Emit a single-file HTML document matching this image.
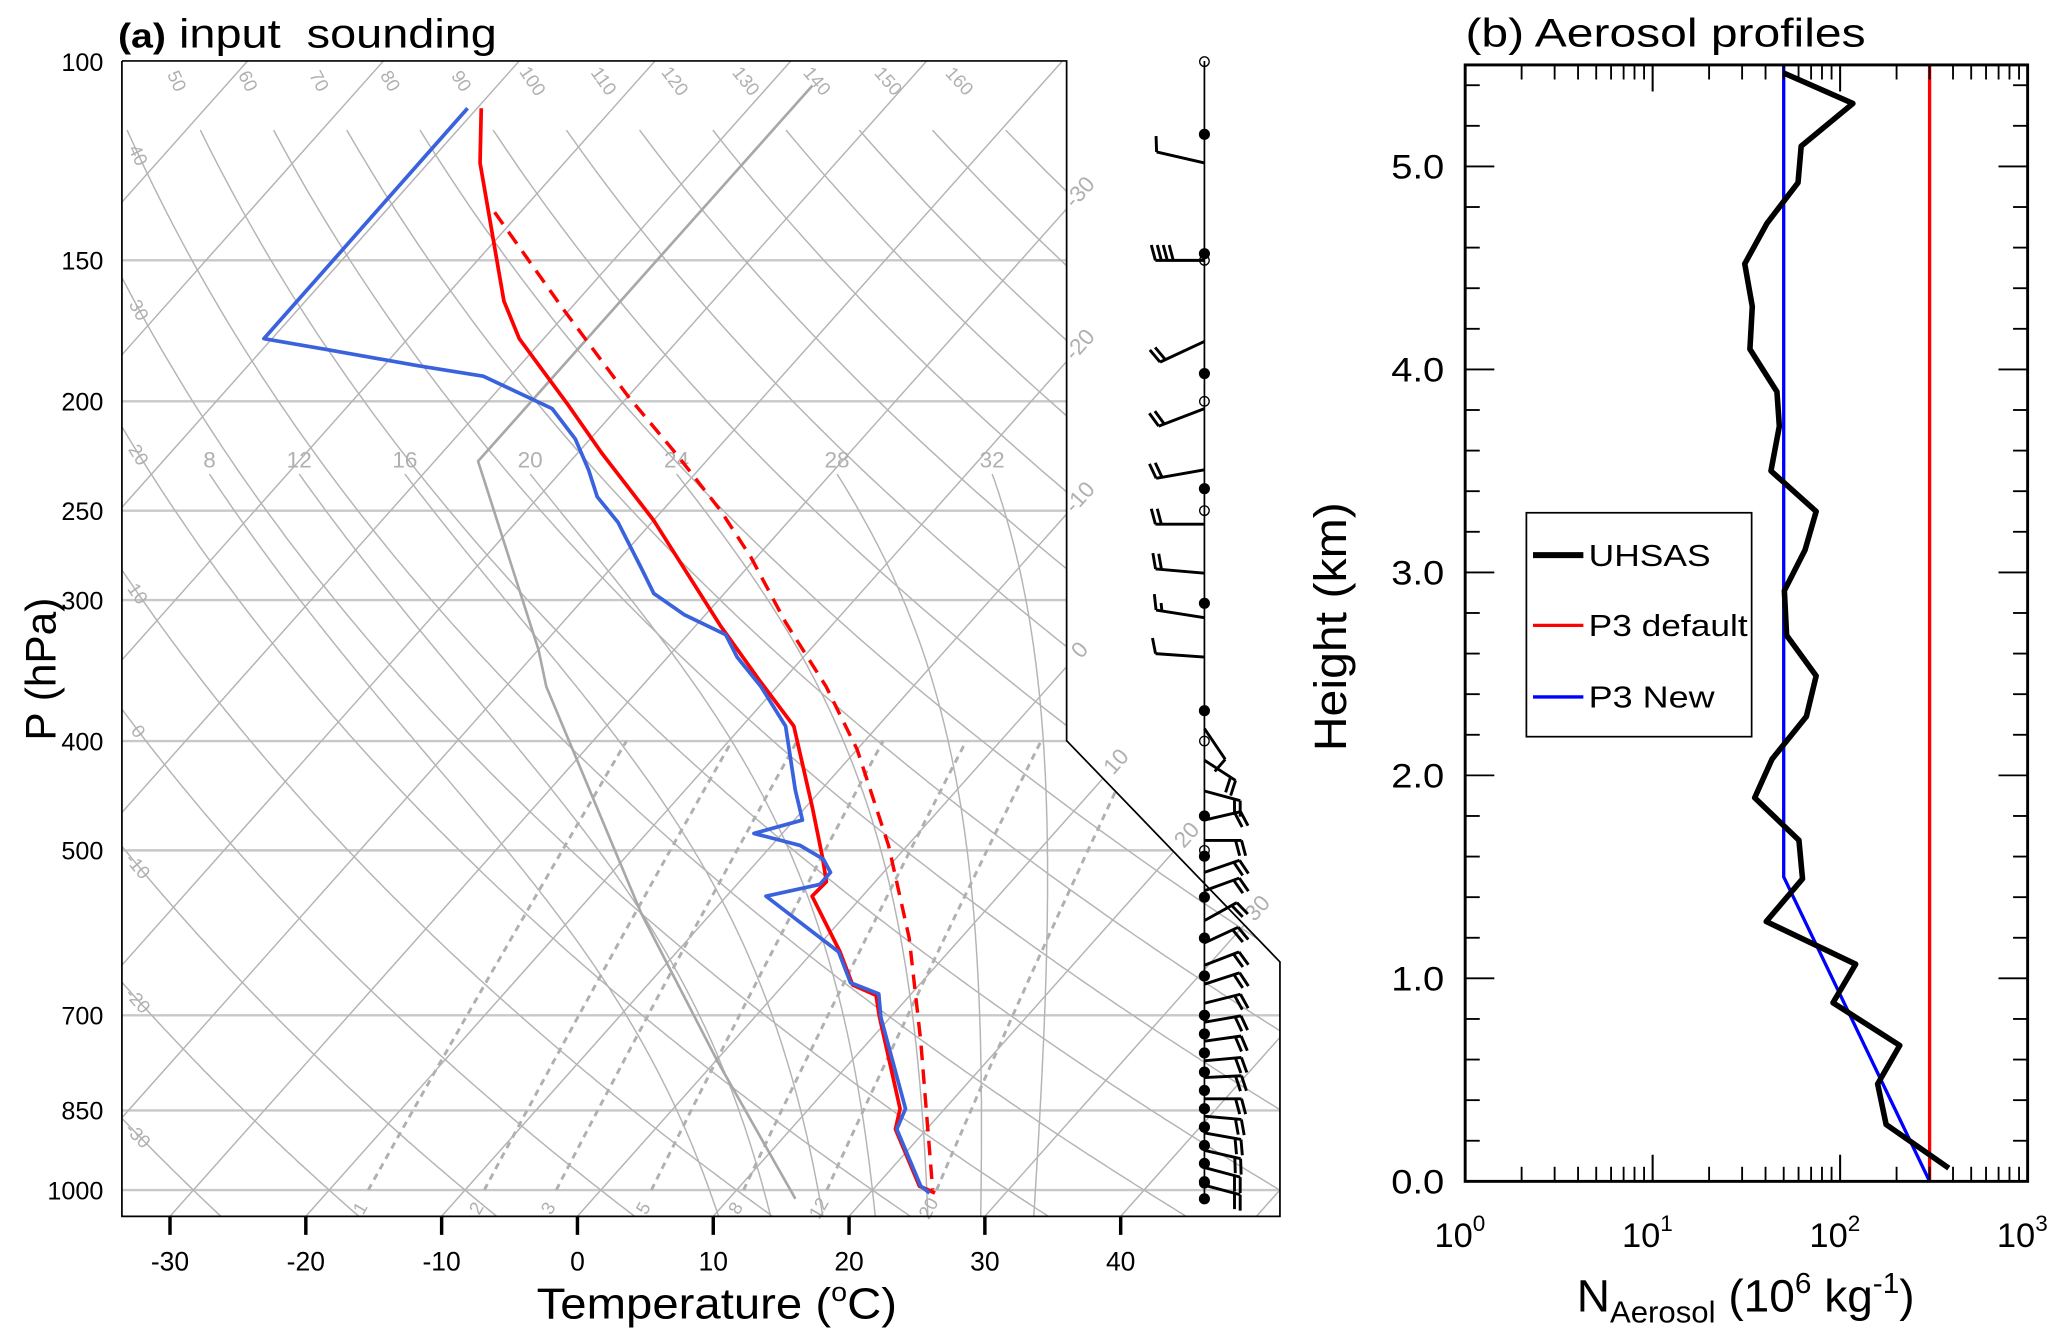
<!DOCTYPE html>
<html><head><meta charset="utf-8"><style>
html,body{margin:0;padding:0;background:#fff;}
svg{display:block;font-family:"Liberation Sans",Arial,sans-serif;}
</style></head><body>
<svg id="fig" xmlns="http://www.w3.org/2000/svg" width="2067" height="1332" viewBox="0 0 1560 1005.3">
<defs>
<clipPath id="skewClip"><polygon points="92,46 805,46 805,559 966,726 966,918 92,918"/></clipPath>
<clipPath id="bClip"><rect x="1105.8" y="49" width="424.5" height="842.6"/></clipPath>
</defs>
<g id="panelA">
<g id="bgA" clip-path="url(#skewClip)"></g>
<g id="labA" fill="#b0b0b0" font-size="15"></g>
<g id="dataA" clip-path="url(#skewClip)"></g>
<polyline points="92,46 805,46 805,559 966,726 966,918 92,918 92,46" fill="none" stroke="#000" stroke-width="1.3"/>
<g id="windA"></g>
<g id="axA"></g>
<text x="89" y="36" font-size="31" textLength="286" lengthAdjust="spacingAndGlyphs" xml:space="preserve"><tspan font-weight="bold" font-size="26">(a)</tspan> input  sounding</text>
<text x="541" y="995" font-size="33" text-anchor="middle" textLength="272" lengthAdjust="spacingAndGlyphs">Temperature (<tspan font-size="20" dy="-13">o</tspan><tspan dy="13">C)</tspan></text>
<text transform="translate(42,505) rotate(-90)" font-size="32" text-anchor="middle">P (hPa)</text>
</g>
<g id="panelB">
<g id="dataB" clip-path="url(#bClip)"></g>
<rect x="1105.8" y="49" width="424.5" height="842.6" fill="none" stroke="#000" stroke-width="2.2"/>
<g id="axB"></g>
<text x="1106" y="35" font-size="30" textLength="302" lengthAdjust="spacingAndGlyphs">(b) Aerosol profiles</text>
<text x="1190" y="990" font-size="34" textLength="255" lengthAdjust="spacingAndGlyphs">N<tspan font-size="23" dy="8">Aerosol</tspan><tspan dy="-8"> (10</tspan><tspan font-size="22" dy="-14">6</tspan><tspan dy="14"> kg</tspan><tspan font-size="22" dy="-14">-1</tspan><tspan dy="14">)</tspan></text>
<text transform="translate(1016,473) rotate(-90)" font-size="34" text-anchor="middle" textLength="188" lengthAdjust="spacingAndGlyphs">Height (km)</text>
<g>
<rect x="1152" y="387" width="170" height="169" fill="#fff" stroke="#000" stroke-width="1.3"/>
<line x1="1157" y1="419" x2="1195" y2="419" stroke="#000" stroke-width="4.5"/>
<text x="1199" y="427" font-size="23" textLength="92" lengthAdjust="spacingAndGlyphs">UHSAS</text>
<line x1="1157" y1="472" x2="1195" y2="472" stroke="#ff0000" stroke-width="2.5"/>
<text x="1199" y="480" font-size="23" textLength="120" lengthAdjust="spacingAndGlyphs">P3 default</text>
<line x1="1157" y1="526" x2="1195" y2="526" stroke="#0000ff" stroke-width="2.5"/>
<text x="1199" y="534" font-size="23" textLength="95" lengthAdjust="spacingAndGlyphs">P3 New</text>
</g>
</g>
</svg>
<script>
// ---------- Panel (a) data ----------
const pressureLevels=[100,150,200,250,300,400,500,700,850,1000];
const tempTicks=[-30,-20,-10,0,10,20,30,40];
const tempP=[110,123,163,176,201,222,255,316,353,388,458,507,533,549,615,658,672,701,847,883,992,1006];
const tempT=[-79.7,-76.2,-65.4,-61.8,-54.0,-48.3,-40.0,-28.2,-21.8,-16.2,-9.5,-5.5,-3.6,-3.7,2.0,5.1,7.5,9.1,16.7,17.7,23.2,24.8];
const dewP=[110,176,180,186,190,203,216,230,243,256,281,296,309,322,337,358,388,407,442,470,483,495,509,523,536,549,615,655,670,703,847,883,992,1006];
const dewT=[-80.7,-80.6,-75.2,-67.5,-62.0,-54.8,-51.1,-48.1,-45.7,-42.5,-37.8,-35.2,-31.6,-27.2,-24.9,-21.2,-16.8,-15.0,-11.9,-9.4,-12.1,-7.9,-5.3,-3.9,-3.9,-7.1,1.9,4.8,7.6,9.3,17.1,17.8,23.3,24.4];
const parcelP=[136,166,198,223,250,275,314,358,407,495,598,738,999];
const parcelT=[-71.9,-60.4,-50.0,-42.6,-35.7,-30.4,-23.6,-16.4,-10.0,-1.4,6.2,13.8,24.4];
const grayP=[105,226,332,358,568,768,1018];
const grayT=[-56.8,-56.8,-40.0,-37.0,-15.2,0.1,14.9];
const isotherms=[-110,-100,-90,-80,-70,-60,-50,-40,-30,-20,-10,0,10,20,30,40,50];
const isoLabels=[-30,-20,-10,0,10,20,30];
const dryThetas=[-30,-20,-10,0,10,20,30,40,50,60,70,80,90,100,110,120,130,140,150,160,170,180];
const dryTopLabels=[50,60,70,80,90,100,110,120,130,140,150,160];
const dryLeftLabels=[-30,-20,-10,0,10,20,30,40];
const moistThetaW=[8,12,16,20,24,28,32];
const mixRatios=[1,2,3,5,8,12,20];
// wind barbs: pressure, shaft angle (deg, screen, CCW from right), number of feathers
const barbP=[123,150,177,203,230,257,284,311,337,390,416,443,470,490,523,543,577,604,632,657,683,710,738,768,795,830,860,890,922,955,990];
const barbAng=[167,180,205,201,190,180,175,171,176,-56,-33,-15,13,0,19,20,29,25,21,18,14,10,8,5,3,0,-5,-10,-13,-15,-15];
const barbFeath=[1,4,2,2,2,2,2,1.5,1,1,2,2,2,2,2,2,2,2,2,2,2,2,2,2,2,2,2,2,2,2,2];
const dotP=[116,148,189,239,302,376,466,506,550,598,646,700,727,756,786,816,847,879,913,947,983,1018];
const ringP=[100,150,200,250,400,500,700,880,986];

// ---------- Panel (b) data ----------
const uhsasH=[5.46,5.31,5.10,4.92,4.72,4.52,4.31,4.10,3.89,3.72,3.50,3.30,3.11,2.91,2.69,2.49,2.29,2.08,1.89,1.68,1.49,1.28,1.07,0.88,0.67,0.48,0.28,0.065];
const uhsasN=[50,117,62,59.6,40.7,31,34,33,46,47.4,42.8,74.5,65,50.4,51.8,74.5,66,43.3,35,60.3,63,40.3,121,91.6,208,158.6,176,380];
const p3DefaultH=[0,5.5];
const p3DefaultN=[300,300];
const p3NewH=[5.5,1.5,0];
const p3NewN=[50,50,300];
const heightTicks=[0,1,2,3,4,5];
const nDecades=[0,1,2,3];

const NS='http://www.w3.org/2000/svg';
function mk(tag,attrs,parent){const e=document.createElementNS(NS,tag);for(const k in attrs)e.setAttribute(k,attrs[k]);parent.appendChild(e);return e;}
function yP(p){return 898.2+369.9*Math.log(p/1000);}
function xT(T,y){return 435.8+10.25*T+0.89*(918-y);}
function pt(T,p){const y=yP(p);return [xT(T,y),y];}
function pathFrom(pts){return pts.map((q,i)=>(i?'L':'M')+q[0].toFixed(1)+' '+q[1].toFixed(1)).join(' ');}
function es(Tc){return 6.112*Math.exp(17.67*Tc/(Tc+243.5));}

const bgA=document.getElementById('bgA');
const labA=document.getElementById('labA');
const dataA=document.getElementById('dataA');
const axA=document.getElementById('axA');
const windA=document.getElementById('windA');

// pressure gridlines
for(const p of pressureLevels){
  if(p===100) continue;
  const g=mk('line',{x1:92,x2:970,y1:yP(p),y2:yP(p),stroke:'#c8c8c8','stroke-width':1.8},bgA);
  
  
}
// isotherms
for(const T of isotherms){
  const pts=[[xT(T,930),930],[xT(T,40),40]];
  const l=mk('path',{d:pathFrom(pts),stroke:'#b4b4b4','stroke-width':1.1,fill:'none'},bgA);
  
  
}
// dry adiabats
for(const th of dryThetas){
  const pts=[];
  for(let p=1060;p>=111;p-=5){pts.push(pt((th+273.15)*Math.pow(p/1000,0.2857)-273.15,p));}
  const l=mk('path',{d:pathFrom(pts),stroke:'#b4b4b4','stroke-width':1.1,fill:'none'},bgA);
  
  
}
// moist adiabats
function moistCurve(tw){
  const Rd=287,cp=1005,Lv=2.5e6,eps=0.622;
  function dTdp(T,p){const e=es(T-273.15);const rs=eps*e/(p-e);return (Rd*T+Lv*rs)/(p*(cp+Lv*Lv*rs*eps/(Rd*T*T)));}
  const up=[];let T=tw+273.15;
  for(let p=1000;p>=232;p-=2){up.push([T-273.15,p]);T-=dTdp(T,p)*2;}
  const down=[];T=tw+273.15;
  for(let p=1000;p<=1060;p+=2){down.push([T-273.15,p]);T+=dTdp(T,p)*2;}
  return down.reverse().concat(up);
}
for(const tw of moistThetaW){
  const c=moistCurve(tw);
  const pts=c.map(q=>pt(q[0],q[1]));
  const l=mk('path',{d:pathFrom(pts),stroke:'#b4b4b4','stroke-width':1.1,fill:'none'},bgA);
  
  
  const top=pts[pts.length-1];
  const t=mk('text',{x:top[0].toFixed(1),y:(top[1]-5).toFixed(1),'text-anchor':'middle','font-size':17},labA);
  t.textContent=tw;
  
  
}
// mixing ratio lines
for(const w of mixRatios){
  const pts=[];
  for(let p=1000;p>=400;p-=10){const e=w*p/(622+w);const a=Math.log(e/6.112);pts.push(pt(243.5*a/(17.67-a),p));}
  const l=mk('path',{d:pathFrom(pts),stroke:'#b0b0b0','stroke-width':2.2,'stroke-dasharray':'5,4',fill:'none'},bgA);
  
  
  const b=pts[0];
  const t=mk('text',{transform:'translate('+(b[0]-2).toFixed(1)+','+(b[1]+16).toFixed(1)+') rotate(-60)','text-anchor':'middle','font-size':14},labA);
  t.textContent=w;
  
  
}
// gray reference path
{
  const pts=grayP.map((p,i)=>pt(grayT[i],p));
  const l=mk('path',{d:pathFrom(pts),stroke:'#a8a8a8','stroke-width':2,fill:'none'},bgA);
  
  
}
// dry adiabat labels (top)
function dryPt(th,p){return pt((th+273.15)*Math.pow(p/1000,0.2857)-273.15,p);}
for(const th of dryTopLabels){
  const a=dryPt(th,104),b=dryPt(th,112);
  const ang=Math.atan2(b[1]-a[1],b[0]-a[0])*180/Math.PI;
  const t=mk('text',{transform:'translate('+a[0].toFixed(1)+','+a[1].toFixed(1)+') rotate('+ang.toFixed(1)+')','text-anchor':'middle','font-size':14,dy:5},labA);
  t.textContent=th;
  
  
}
// dry adiabat labels (left edge)
for(const th of dryLeftLabels){
  let best=null;
  for(let p=105;p<=1050;p+=1){const q=dryPt(th,p);if(q[0]>=104){best=p;break;}}
  if(best===null) continue;
  const a=dryPt(th,best),b=dryPt(th,best+8);
  const ang=Math.atan2(b[1]-a[1],b[0]-a[0])*180/Math.PI;
  const t=mk('text',{transform:'translate('+a[0].toFixed(1)+','+a[1].toFixed(1)+') rotate('+ang.toFixed(1)+')','text-anchor':'middle','font-size':14,dy:5},labA);
  t.textContent=th;
  
  
}
// isotherm labels at right boundary
for(const T of isoLabels){
  let y=918-(805-435.8-10.25*T)/0.89, x=805;
  if(y>559){y=(986.7+10.25*T)/1.854;x=805+(y-559)*161/167;}
  const t=mk('text',{transform:'translate('+(x+14).toFixed(1)+','+(y-9).toFixed(1)+') rotate(-48)','text-anchor':'middle','font-size':17},labA);
  t.textContent=T;
  
  
}
// sounding profiles
{
  const pp=parcelP.map((p,i)=>pt(parcelT[i],p));
  const l=mk('path',{d:pathFrom(pp),stroke:'#ff0000','stroke-width':2.6,fill:'none','stroke-dasharray':'11,7'},dataA);
  
  
  const tp=tempP.map((p,i)=>pt(tempT[i],p));
  const l2=mk('path',{d:pathFrom(tp),stroke:'#ff0000','stroke-width':2.8,fill:'none','stroke-linejoin':'round'},dataA);
  
  
  const dp=dewP.map((p,i)=>pt(dewT[i],p));
  const l3=mk('path',{d:pathFrom(dp),stroke:'#3a62dc','stroke-width':2.8,fill:'none','stroke-linejoin':'round'},dataA);
  
  
}
// axes (a)
for(const p of pressureLevels){
  const t=mk('text',{x:78,y:(yP(p)+7).toFixed(1),'text-anchor':'end','font-size':19},axA);
  t.textContent=p;
  
  
}
for(const T of tempTicks){
  const x=435.8+10.25*T;
  const k=mk('line',{x1:x,x2:x,y1:918,y2:932,stroke:'#000','stroke-width':2.6},axA);
  
  
  const t=mk('text',{x:x,y:959,'text-anchor':'middle','font-size':20},axA);
  t.textContent=T;
  
  
}
// wind barbs
const XC=909;
{
  const s=mk('line',{x1:XC,x2:XC,y1:46,y2:yP(1018),stroke:'#000','stroke-width':1.3},windA);
  
  
}
barbP.forEach((p,i)=>{
  const y=yP(p);
  const a=barbAng[i]*Math.PI/180;
  const left=Math.cos(a)<0;
  const L=left?37:28;
  const dx=Math.cos(a),dy=-Math.sin(a);
  const ex=XC+dx*L,ey=y+dy*L;
  let d='M'+XC+' '+y.toFixed(1)+' L'+ex.toFixed(1)+' '+ey.toFixed(1);
  const phi=(left?75:75)*Math.PI/180;
  const fx=dx*Math.cos(phi)-dy*Math.sin(phi), fy=dx*Math.sin(phi)+dy*Math.cos(phi);
  const n=barbFeath[i];
  for(let j=0;j<Math.ceil(n);j++){
    const len=(j+1>n)?6:12;
    const bx=ex-dx*j*4.5,by=ey-dy*j*4.5;
    d+=' M'+bx.toFixed(1)+' '+by.toFixed(1)+' L'+(bx+fx*len).toFixed(1)+' '+(by+fy*len).toFixed(1);
  }
  const b=mk('path',{d:d,stroke:'#000','stroke-width':2.2,fill:'none'},windA);
  
  
});
for(const p of dotP){
  const c=mk('circle',{cx:XC,cy:yP(p).toFixed(1),r:4.2,fill:'#000'},windA);
  
  
}
for(const p of ringP){
  const c=mk('circle',{cx:XC,cy:yP(p).toFixed(1),r:3.6,fill:'none',stroke:'#000','stroke-width':1},windA);
  
  
}

// ---------- Panel (b) ----------
function xN(n){return 1105.8+141.5*Math.log10(n);}
function yH(h){return 891.6-153.2*h;}
const dataB=document.getElementById('dataB');
const axB=document.getElementById('axB');
{
  const r=mk('path',{d:pathFrom(p3DefaultH.map((h,i)=>[xN(p3DefaultN[i]),yH(h)])),stroke:'#ff0000','stroke-width':2.5,fill:'none'},dataB);
  
  
  const b=mk('path',{d:pathFrom(p3NewH.map((h,i)=>[xN(p3NewN[i]),yH(h)])),stroke:'#0000ff','stroke-width':2.5,fill:'none'},dataB);
  
  
  const u=mk('path',{d:pathFrom(uhsasH.map((h,i)=>[xN(uhsasN[i]),yH(h)])),stroke:'#000','stroke-width':4.2,fill:'none','stroke-linejoin':'round'},dataB);
  
  
}
for(let h=0;h<=5.5001;h+=0.2){
  const y=yH(h);
  const major=Math.abs(h-Math.round(h))<1e-6;
  const len=major?22:11;
  const t1=mk('line',{x1:1105.8,x2:1105.8+len,y1:y,y2:y,stroke:'#000','stroke-width':1.4},axB);
  
  
  const t2=mk('line',{x1:1530.3,x2:1530.3-len,y1:y,y2:y,stroke:'#000','stroke-width':1.4},axB);
  
  
}
for(const h of heightTicks){
  const t=mk('text',{x:1090,y:(yH(h)+9).toFixed(1),'text-anchor':'end','font-size':26,textLength:40,lengthAdjust:'spacingAndGlyphs'},axB);
  t.textContent=h.toFixed(1);
  
  
}
for(let d=0;d<3;d++){
  for(let m=1;m<=10;m++){
    const n=m*Math.pow(10,d);
    const x=xN(n);
    const len=(m===1||m===10)?20:11;
    const a=mk('line',{x1:x,x2:x,y1:891.6,y2:891.6-len,stroke:'#000','stroke-width':1.4},axB);
    
    
    const b=mk('line',{x1:x,x2:x,y1:49,y2:49+len,stroke:'#000','stroke-width':1.4},axB);
    
    
  }
}
for(const d of nDecades){
  const t=mk('text',{x:(xN(Math.pow(10,d))-4).toFixed(1),y:941,'text-anchor':'middle','font-size':26},axB);
  t.textContent='10';
  const s=mk('tspan',{'font-size':17,dy:-12},t);
  s.textContent=d;
  
  
}
</script>
</body></html>
